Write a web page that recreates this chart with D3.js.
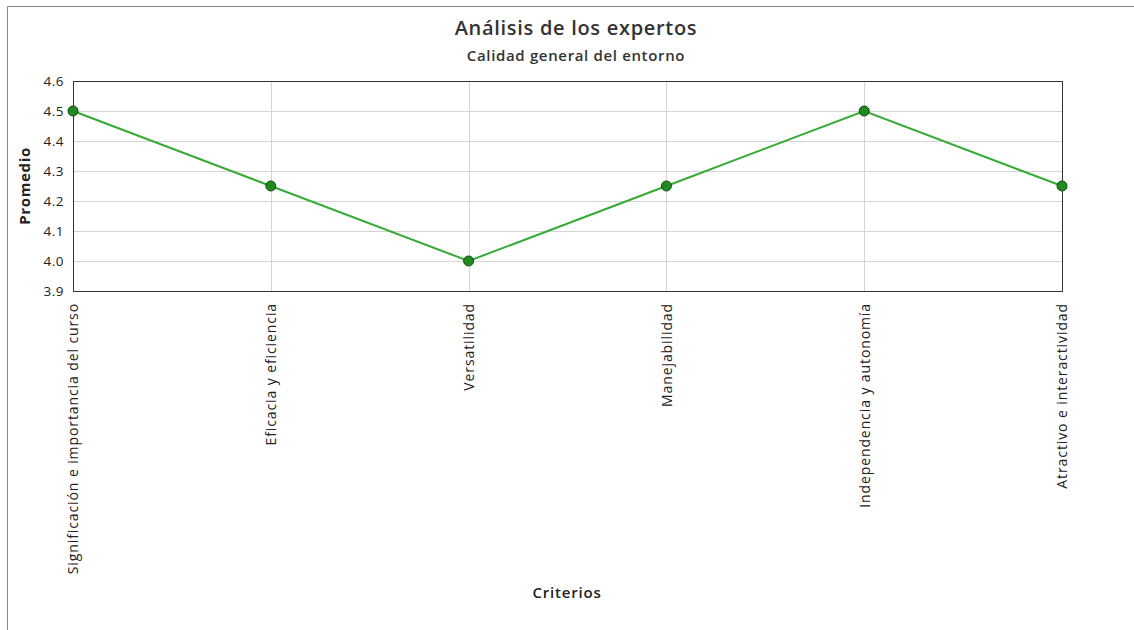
<!DOCTYPE html>
<html>
<head>
<meta charset="utf-8">
<script src="https://cdn.jsdelivr.net/npm/d3@7/dist/d3.min.js"></script>
<style>
  html, body { margin: 0; padding: 0; background: #fff; }
  svg { display: block; font-family: "Open Sans", sans-serif; }
</style>
</head>
<body>
<svg id="chart" width="1134" height="630"></svg>
<script>
// Criteria evaluated by the experts and their average score
const categories = [
  "Significación e importancia del curso",
  "Eficacia y eficiencia",
  "Versatilidad",
  "Manejabilidad",
  "Independencia y autonomía",
  "Atractivo e interactividad"
];
const promedio = [4.5, 4.25, 4.0, 4.25, 4.5, 4.25];
const yTicks = [3.9, 4.0, 4.1, 4.2, 4.3, 4.4, 4.5, 4.6];

const svg = d3.select("#chart");
const margin = { left: 73, right: 1062, top: 81, bottom: 291 };

// outer frame (top and left edges visible)
svg.append("path")
  .attr("d", "M7.5,640 V6.5 H1140")
  .attr("fill", "none")
  .attr("stroke", "#8a8a8a")
  .attr("stroke-width", 1);

const x = d3.scalePoint().domain(categories).range([margin.left, margin.right]);
const y = d3.scaleLinear().domain([3.9, 4.6]).range([margin.bottom, margin.top]);

// gridlines
const grid = svg.append("g");
grid.selectAll("line.h").data(yTicks).join("line")
  .attr("x1", margin.left).attr("x2", margin.right)
  .attr("y1", d => Math.round(y(d)) + 0.5).attr("y2", d => Math.round(y(d)) + 0.5)
  .attr("stroke", "#d4d4d4");
grid.selectAll("line.v").data(categories).join("line")
  .attr("x1", d => Math.round(x(d)) + 0.5).attr("x2", d => Math.round(x(d)) + 0.5)
  .attr("y1", margin.top).attr("y2", margin.bottom)
  .attr("stroke", "#d4d4d4");

// plot frame
svg.append("rect")
  .attr("x", margin.left + 0.5).attr("y", margin.top + 0.5)
  .attr("width", margin.right - margin.left).attr("height", margin.bottom - margin.top)
  .attr("fill", "none").attr("stroke", "#333").attr("stroke-width", 1);

// y axis labels
const yAxis = d3.axisLeft(y).tickValues(yTicks).tickFormat(d3.format(".1f")).tickSize(0).tickPadding(9);
svg.append("g").attr("transform", `translate(${margin.left},0)`).call(yAxis)
  .call(g => g.select(".domain").remove())
  .selectAll("text")
  .attr("font-family", "Open Sans, sans-serif")
  .attr("font-size", 13.5)
  .attr("letter-spacing", 0.5)
  .attr("fill", "#222");

// x axis labels, rotated
const xAxis = d3.axisBottom(x).tickSize(0).tickPadding(0);
svg.append("g").attr("transform", `translate(0,${margin.bottom})`).call(xAxis)
  .call(g => g.select(".domain").remove())
  .selectAll("text")
  .attr("font-family", "Open Sans, sans-serif")
  .attr("font-size", 14)
  .attr("letter-spacing", 0.9)
  .attr("fill", "#222")
  .attr("text-anchor", "end")
  .attr("dy", "0.35em")
  .attr("transform", "translate(0,12) rotate(-90)")
  .attr("x", 0).attr("y", 0);

// line
svg.append("path")
  .datum(promedio)
  .attr("fill", "none")
  .attr("stroke", "#35ab35")
  .attr("stroke-width", 2)
  .attr("d", d3.line().x((d, i) => x(categories[i])).y(d => y(d)));

// markers
svg.selectAll("circle.pt").data(promedio).join("circle")
  .attr("class", "pt")
  .attr("cx", (d, i) => x(categories[i]))
  .attr("cy", d => y(d))
  .attr("r", 5)
  .attr("fill", "#1f8a1f")
  .attr("stroke", "#124a12")
  .attr("stroke-width", 1);

// titles
svg.append("text").attr("x", 576).attr("y", 35)
  .attr("text-anchor", "middle").attr("font-size", 20).attr("font-weight", 600)
  .attr("letter-spacing", 0.7)
  .attr("fill", "#333").text("Análisis de los expertos");
svg.append("text").attr("x", 576).attr("y", 61)
  .attr("text-anchor", "middle").attr("font-size", 15).attr("font-weight", 600)
  .attr("letter-spacing", 0.65)
  .attr("fill", "#333").text("Calidad general del entorno");

// axis titles
svg.append("text").attr("transform", "translate(30,186) rotate(-90)")
  .attr("text-anchor", "middle").attr("font-size", 15).attr("font-weight", 700)
  .attr("letter-spacing", 0.65)
  .attr("fill", "#222").text("Promedio");
svg.append("text").attr("x", 567).attr("y", 598)
  .attr("text-anchor", "middle").attr("font-size", 15).attr("font-weight", 600)
  .attr("letter-spacing", 0.8)
  .attr("fill", "#222").text("Criterios");
</script>
</body>
</html>
